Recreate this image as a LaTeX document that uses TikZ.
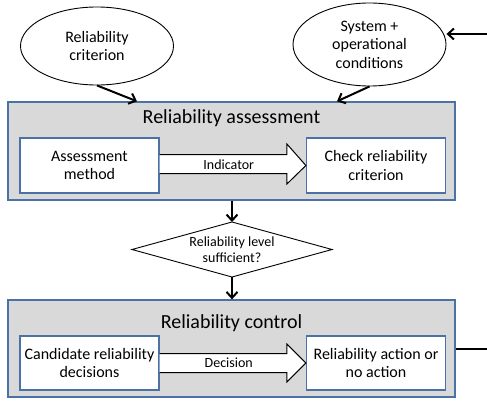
\documentclass[tikz,border=0pt]{standalone}
\usepackage{fontspec}
\setmainfont{Carlito}
\usetikzlibrary{arrows.meta,calc,shapes.geometric}
\definecolor{boxblue}{HTML}{4A72A6}
\definecolor{boxgray}{HTML}{D9D9D9}
\tikzset{
  outerbox/.style={draw=boxblue,line width=1.3pt,fill=boxgray,minimum width=447pt,inner sep=0pt},
  innerbox/.style={draw=boxblue,line width=1.2pt,fill=white,minimum width=139pt,minimum height=55pt,inner sep=0pt,align=center,font=\fontsize{16}{18.4}\selectfont},
  oval/.style={draw,ellipse,line width=0.9pt,minimum width=153pt,inner sep=0pt,align=center,font=\fontsize{16}{18.4}\selectfont},
  titletext/.style={font=\fontsize{20}{24}\selectfont,inner sep=0pt},
  smalltext/.style={font=\fontsize{14}{16.5}\selectfont,inner sep=0pt,align=center},
  arr/.style={line width=2pt,-{Straight Barb[length=6pt,width=11pt,line width=2pt]}},
  blockarrow/.style={draw,line width=1pt,fill=white,line join=miter},
}
\begin{document}
\begin{tikzpicture}[x=1pt,y=-1pt]
\useasboundingbox (0,0) rectangle (487,401);
% ellipses
\node[oval,minimum height=78pt] (e1) at (97,46) {Reliability\\criterion};
\node[oval,minimum height=83pt] (e2) at (369.5,44.5) {System +\\operational\\conditions};
% outer boxes
\node[outerbox,minimum height=98pt] (box1) at (231.5,151) {};
\node[outerbox,minimum height=97pt] (box2) at (231.5,348.5) {};
\node[titletext] (t1) at (231.5,118) {Reliability assessment};
\node[titletext] (t2) at (231.5,323) {Reliability control};
% inner boxes
\node[innerbox] (am) at (89.5,165.5) {Assessment\\method};
\node[innerbox] (cr) at (376,165.5) {Check reliability\\criterion};
\node[innerbox,minimum height=54pt] (cd) at (89.5,363) {Candidate reliability\\decisions};
\node[innerbox,minimum height=54pt] (ra) at (376,363) {Reliability action or\\no action};
% block arrows
\draw[blockarrow] ($(am.east)+(0,-11)$) -- ($(cr.west)+(-19,-11)$) -- ($(cr.west)+(-19,-21.5)$)
  -- (cr.west) -- ($(cr.west)+(-19,18.5)$) -- ($(cr.west)+(-19,8)$) -- ($(am.east)+(0,8)$);
\node[smalltext] (ind) at ($(am.east)!0.5!(cr.west)+(-4,-1)$) {Indicator};
\draw[blockarrow] ($(cd.east)+(0,-9.5)$) -- ($(ra.west)+(-19,-9.5)$) -- ($(ra.west)+(-19,-19)$)
  -- (ra.west) -- ($(ra.west)+(-19,19)$) -- ($(ra.west)+(-19,9.5)$) -- ($(cd.east)+(0,9.5)$);
\node[smalltext] (dec) at ($(cd.east)!0.5!(ra.west)+(-4,0)$) {Decision};
% diamond
\node[smalltext] (q) at (232,249.5) {Reliability level\\sufficient?};
\coordinate (dT) at (232,222);
\coordinate (dB) at (232,277);
\coordinate (dL) at (132,249.5);
\coordinate (dR) at (332,249.5);
\draw[line width=0.9pt] (dT) -- (dR) -- (dB) -- (dL) -- cycle;
% connectors
\coordinate (a1) at (137,0);
\coordinate (a2) at (337,0);
\draw[arr] (e1.south) -- (box1.north -| a1);
\draw[arr] (e2.south) -- (box1.north -| a2);
\draw[arr] (box1.south -| dT) -- (dT);
\draw[arr] (dB) -- (box2.north -| dB);
\coordinate (src) at (487,34);
\draw[arr] (src) -- (src -| e2.east);
\coordinate (fb) at (487,349);
\draw[line width=2pt] (box2.east |- fb) -- (fb);
\end{tikzpicture}
\end{document}
